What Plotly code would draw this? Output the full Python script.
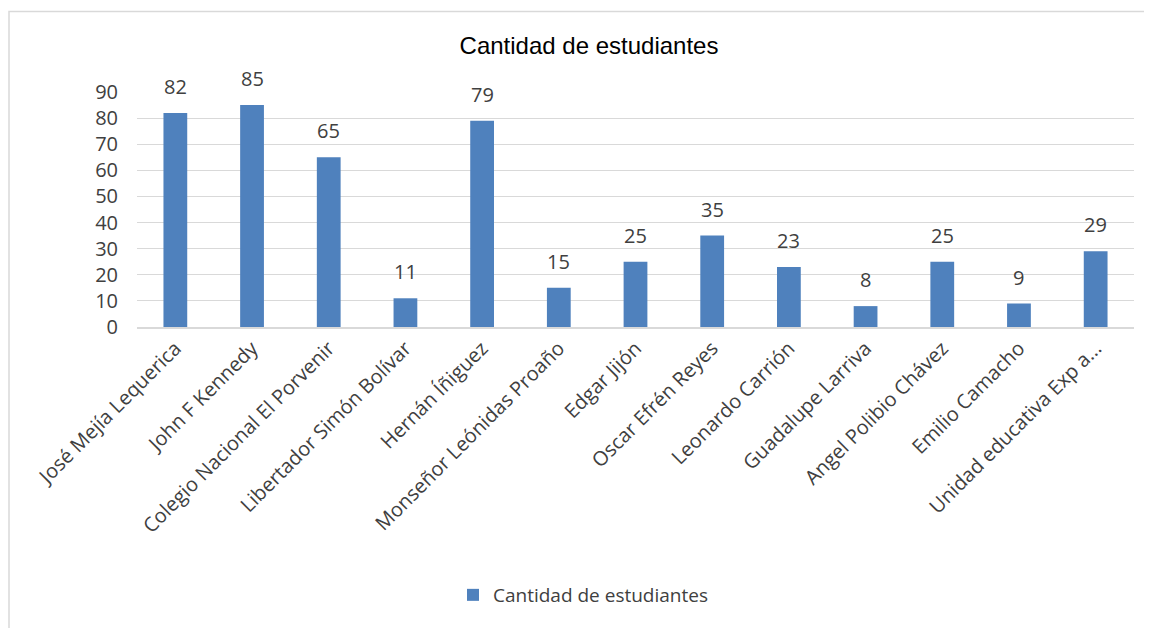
import plotly.graph_objects as go

categories = [
    "José Mejía Lequerica", "John F Kennedy", "Colegio Nacional El Porvenir",
    "Libertador Simón Bolívar", "Hernán Íñiguez", "Monseñor Leónidas Proaño",
    "Edgar Jijón", "Oscar Efrén Reyes", "Leonardo Carrión", "Guadalupe Larriva",
    "Angel Polibio Chávez", "Emilio Camacho", "Unidad educativa Exp a...",
]
values = [82, 85, 65, 11, 79, 15, 25, 35, 23, 8, 25, 9, 29]
series_name = "Cantidad de estudiantes"
y_ticks = [0, 10, 20, 30, 40, 50, 60, 70, 80, 90]

# page body has an 8px margin; figure sized to fill the remaining window
OFF = 8
W, H = 1152 - OFF, 628 - OFF
L, R, T, B = 137 - OFF, 1152 - 1134, 92 - OFF, 628 - 327
pw, ph = W - L - R, H - T - B

def px_x(p):  # screen px -> paper
    return (p - OFF - L) / pw

def px_y(p):
    return (T + ph - (p - OFF)) / ph

FONT = "Open Sans"
TXT = "#404040"

fig = go.Figure(go.Bar(
    x=categories, y=values, name=series_name,
    marker=dict(color="#4F81BD", line=dict(width=0)),
    showlegend=True,
))

annotations = [
    dict(x=c, y=v, xref="x", yref="y", text=str(v), showarrow=False,
         yanchor="bottom", yshift=11, font=dict(family=FONT, size=20, color=TXT))
    for c, v in zip(categories, values)
]

fig.update_layout(
    width=W, height=H,
    margin=dict(l=L, r=R, t=T, b=B, autoexpand=False),
    paper_bgcolor="white", plot_bgcolor="white",
    bargap=0.69,
    title=dict(text="Cantidad de estudiantes", x=px_x(589), xref="paper", xanchor="center",
               y=1 - (46 - OFF) / H, yref="container", yanchor="middle",
               font=dict(family="Liberation Sans, Arial", size=24, color="#000000")),
    legend=dict(orientation="h", x=px_x(583), xanchor="center", y=px_y(595), yanchor="middle",
                font=dict(family=FONT, size=19, color=TXT), itemwidth=30),
    annotations=annotations,
    shapes=[dict(type="rect", xref="paper", yref="paper",
                 x0=px_x(9), x1=px_x(1170), y0=px_y(650), y1=px_y(11.5),
                 line=dict(color="#D9D9D9", width=1.5), fillcolor="rgba(0,0,0,0)", layer="below")],
)
fig.update_xaxes(tickangle=-45, tickfont=dict(family=FONT, size=20, color=TXT),
                 showline=True, linecolor="#D9D9D9", linewidth=1.5, ticks="", showgrid=False)
fig.update_yaxes(range=[0, 90], tickvals=y_ticks, tickfont=dict(family=FONT, size=20, color=TXT),
                 showgrid=True, gridcolor="#D9D9D9", gridwidth=1, zeroline=False,
                 showline=False, ticks="", ticklabelstandoff=18)

fig.write_html("out.html")
